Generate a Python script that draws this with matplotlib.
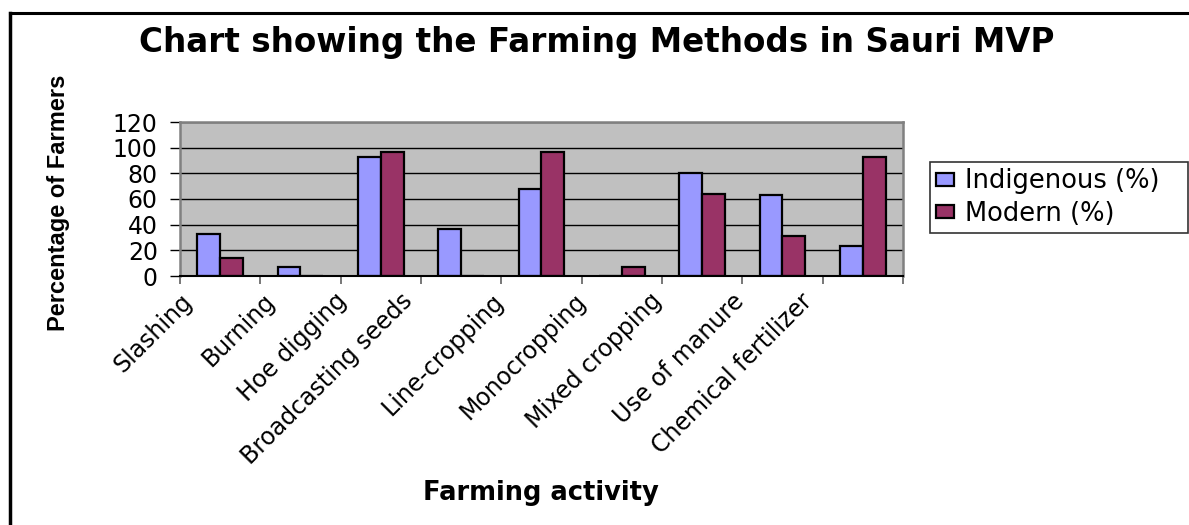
import numpy as np
import matplotlib
matplotlib.use("Agg")
import matplotlib.pyplot as plt
from matplotlib.lines import Line2D
from matplotlib.transforms import ScaledTranslation

categories = ["Slashing", "Burning", "Hoe digging", "Broadcasting seeds",
              "Line-cropping", "Monocropping", "Mixed cropping",
              "Use of manure", "Chemical fertilizer"]
indigenous = [33, 7, 93, 37, 68, 0, 80, 63, 23]
modern = [14, 0, 97, 0, 97, 7, 64, 31, 93]
series_names = ["Indigenous (%)", "Modern (%)"]
yticks = [0, 20, 40, 60, 80, 100, 120]

W, H = 1189, 525
fig = plt.figure(figsize=(W / 100, H / 100), dpi=100)
fig.patch.set_facecolor("white")

ax = fig.add_axes([180 / W, 1 - 276 / H, (903 - 180) / W, (276 - 122) / H])
ax.set_facecolor("#C0C0C0")

x = np.arange(len(categories))
bw = 0.285
ax.bar(x - bw / 2, indigenous, bw, color="#9999FF", edgecolor="black",
       linewidth=1.6, label=series_names[0], zorder=3)
ax.bar(x + bw / 2, modern, bw, color="#993366", edgecolor="black",
       linewidth=1.6, label=series_names[1], zorder=3)

ax.set_xlim(-0.5, len(categories) - 0.5)
ax.set_ylim(0, 120)
ax.set_yticks(yticks)
ax.set_yticklabels([str(v) for v in yticks], fontsize=17)
ax.yaxis.grid(True, color="black", linewidth=1.0, zorder=1)
ax.set_axisbelow(True)
ax.tick_params(axis="y", direction="out", length=7, width=1, color="black", pad=9)

ax.set_xticks(np.arange(-0.5, len(categories), 1))
ax.set_xticklabels([])
ax.tick_params(axis="x", direction="out", length=6, width=1.2, color="#606060")

for side in ["top", "right", "left"]:
    ax.spines[side].set_color("#808080")
    ax.spines[side].set_linewidth(1.8)
ax.spines["bottom"].set_color("black")
ax.spines["bottom"].set_linewidth(1.5)
ax.spines["bottom"].set_zorder(4)

# category labels, rotated 45 degrees
for i, lab in enumerate(categories):
    dx = -(23 + 2.1 * len(lab)) / 100.0
    tr = ax.get_xaxis_transform() + ScaledTranslation(dx, -0.13, fig.dpi_scale_trans)
    ax.text(i, 0, lab, transform=tr, rotation=45, rotation_mode="anchor",
            ha="right", va="top", fontsize=17)

fig.text(597 / W, 1 - 52 / H, "Chart showing the Farming Methods in Sauri MVP",
         ha="center", va="baseline", fontsize=23.5, fontweight="bold")
fig.text(58 / W, 1 - 202.5 / H, "Percentage of Farmers", rotation=90,
         ha="center", va="center", fontsize=17, fontweight="bold",
         family=["Liberation Sans", "DejaVu Sans"])
fig.text(541 / W, 1 - 500 / H, "Farming activity", ha="center", va="baseline",
         fontsize=18.5, fontweight="bold")

leg = fig.legend(loc="upper left",
                 bbox_to_anchor=(930 / W, 1 - 238 / H, 258 / W, 76 / H),
                 mode="expand", fontsize=18.5, frameon=True, fancybox=False,
                 shadow=False, handlelength=0.7, handleheight=0.42,
                 handletextpad=0.4, labelspacing=0.25, borderpad=0.25,
                 borderaxespad=0)
leg.get_frame().set_edgecolor("black")
leg.get_frame().set_linewidth(1.2)

# outer chart frame (top and left visible)
fig.add_artist(Line2D([9.5 / W, 1.01], [1 - 12.5 / H] * 2, transform=fig.transFigure,
                      color="black", linewidth=2.2))
fig.add_artist(Line2D([9.5 / W] * 2, [1 - 12.5 / H, -0.01], transform=fig.transFigure,
                      color="black", linewidth=2.5))

fig.savefig("out.png", dpi=100)
